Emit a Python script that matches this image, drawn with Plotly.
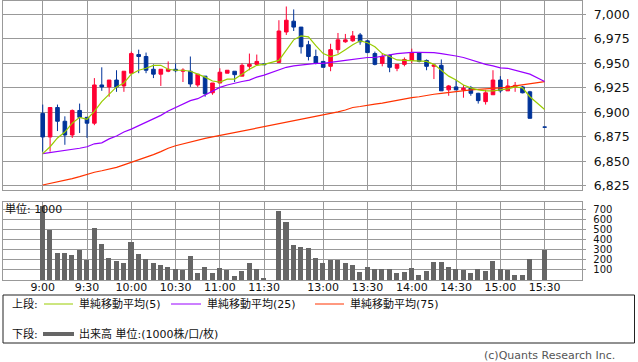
import plotly.graph_objects as go

W, H = 638, 362

# 5-minute slots, 9:00 = slot 0 (slot 31 = lunch gap, slot 67 = pre-close gap)
slots = list(range(0, 31)) + list(range(32, 67)) + [68]

opens = [6899, 6875, 6905, 6891, 6877, 6902, 6895, 6889, 6928, 6926, 6933, 6927, 6940, 6959, 6957,
         6944, 6939, 6942, 6944, 6942, 6942, 6928, 6937, 6920, 6930, 6940, 6942, 6937, 6947, 6949, 6949.4,
         6951, 6982, 6993, 6987, 6969, 6957, 6952, 6947, 6964, 6972, 6973, 6979, 6973, 6960, 6950,
         6958, 6945, 6949, 6953, 6961, 6953, 6947, 6948, 6923, 6926, 6923, 6925, 6919.5, 6911, 6918,
         6933, 6922, 6926, 6926, 6921, 6885]
highs = [6908, 6905, 6908, 6896, 6903, 6909, 6895, 6935, 6946, 6933, 6943, 6942, 6962, 6964, 6961,
         6949, 6944, 6952, 6950, 6945, 6957, 6939, 6937, 6930, 6945, 6943, 6942, 6950, 6960, 6959, 6950,
         6994, 7008, 7005, 6987, 6973, 6964, 6952, 6970, 6981, 6980, 6983, 6981, 6974, 6962, 6960,
         6959, 6949, 6956, 6965, 6961, 6954, 6948, 6954, 6928, 6933, 6928, 6927, 6920, 6923, 6943,
         6937, 6934, 6931, 6927, 6922, 6885]
lows = [6860, 6860, 6881, 6867, 6874, 6879, 6874, 6887, 6922, 6916, 6921, 6921, 6940, 6940, 6940,
        6935, 6927, 6941, 6941, 6931, 6926, 6926, 6916, 6918, 6930, 6940, 6931, 6937, 6943, 6948, 6948.5,
        6951, 6979, 6983, 6960, 6953, 6949, 6946, 6942, 6960, 6971, 6972, 6969, 6961, 6948, 6947,
        6941, 6942, 6947, 6950, 6951, 6943, 6934, 6922, 6917, 6923, 6915, 6917, 6909, 6908, 6918,
        6920, 6922, 6921, 6919.5, 6894, 6885]
closes = [6875, 6905, 6891, 6877, 6902, 6895, 6889, 6928, 6926, 6933, 6926, 6942, 6960, 6957, 6943,
          6939, 6944, 6944, 6942.5, 6943, 6929, 6939, 6919, 6930, 6941, 6943, 6938.5, 6948, 6949, 6952, 6948.7,
          6983, 6994, 6987, 6967, 6957, 6950, 6946, 6964, 6974, 6974, 6978, 6972, 6961, 6949, 6957,
          6946, 6949, 6954, 6961, 6952, 6947, 6948.4, 6922, 6927, 6923, 6924.6, 6919.5, 6912, 6920, 6933,
          6922, 6927, 6927.6, 6920, 6894, 6885]

volumes = [730, 500, 270, 270, 248, 297, 199, 513, 359, 218, 189, 172, 376, 261, 209,
           172, 150, 130, 110, 100, 238, 74, 130, 74, 120, 100, 41, 94, 172, 110, 22,
           690, 572, 347, 326, 317, 218, 169, 199, 199, 169, 150, 81, 130, 110, 110,
           110, 71, 81, 120, 51, 90, 179, 179, 130, 110, 100, 71, 110, 90, 189,
           110, 100, 51, 51, 209, 297]

ma_slots = list(range(0, 31)) + list(range(32, 67)) + [68]
ma5 = [6858, 6865, 6874, 6880, 6889, 6895, 6893, 6901, 6911, 6919, 6926, 6930, 6939, 6943, 6945,
       6948, 6948, 6944, 6943, 6943, 6942, 6939, 6936, 6932, 6931, 6934, 6934, 6939, 6944, 6948, 6949,
       6953, 6964, 6974, 6978, 6977, 6968, 6960, 6957, 6959, 6964, 6969, 6973, 6971, 6967, 6960,
       6957, 6953.5, 6953, 6952.5, 6952, 6952, 6949, 6943, 6937, 6933, 6928, 6925, 6923, 6922, 6922,
       6923, 6924, 6926, 6925, 6916, 6903]
ma25 = [6858, 6859, 6860, 6861, 6862, 6863.5, 6865, 6868, 6869, 6873, 6876, 6880, 6883, 6886.5, 6890,
        6893, 6897, 6901.5, 6905, 6908, 6912, 6914, 6918, 6922, 6925.5, 6928, 6930, 6931.5, 6933, 6936, 6938,
        6943, 6946, 6947.5, 6948.5, 6949.5, 6950, 6950, 6950.7, 6952, 6953, 6954, 6955, 6956, 6956, 6957,
        6958.6, 6960, 6961, 6961.3, 6961.3, 6961.3, 6961, 6960, 6959, 6957.5, 6956, 6953.5, 6951, 6949, 6947.5,
        6945.5, 6945, 6943, 6941.5, 6939, 6931.5]
ma75 = [6826, 6827.5, 6829, 6830.5, 6832.5, 6834.5, 6837, 6839, 6840.5, 6842, 6844, 6846.5, 6849, 6851.5, 6854,
        6857, 6860, 6863.5, 6866, 6868, 6870, 6872, 6873.5, 6875, 6876.5, 6878, 6879.5, 6881, 6882.5, 6884, 6885.5,
        6888, 6889.5, 6891, 6892.5, 6894, 6895.5, 6897, 6898.5, 6900.5, 6902.5, 6905, 6906, 6907.5, 6908.5, 6909.5,
        6911, 6912.5, 6914, 6915, 6916, 6917.5, 6918.5, 6919.5, 6920.5, 6921.2, 6922, 6923, 6923.5, 6924, 6924.6,
        6925, 6925.6, 6927, 6928, 6929, 6931.4]

time_pos = [0, 6, 12, 18, 24, 30, 38, 44, 50, 56, 62, 68]
time_labels = ["9:00", "9:30", "10:00", "10:30", "11:00", "11:30",
               "13:00", "13:30", "14:00", "14:30", "15:00", "15:30"]
price_ticks = [6825, 6850, 6875, 6900, 6925, 6950, 6975, 7000]
price_labels = ["6,825", "6,850", "6,875", "6,900", "6,925", "6,950", "6,975", "7,000"]
vol_ticks = [100, 200, 300, 400, 500, 600, 700]

RED = "#ff0033"
BLUE = "#003399"
GRID = "#999999"
FONT = "DejaVu Sans, Noto Sans CJK JP, sans-serif"

def px(v):
    return v / W

def py(v):
    return 1 - v / H

fig = go.Figure()

fig.add_trace(go.Candlestick(
    x=slots, open=opens, high=highs, low=lows, close=closes,
    increasing=dict(line=dict(color=RED, width=1), fillcolor=RED),
    decreasing=dict(line=dict(color=BLUE, width=1), fillcolor=BLUE),
    whiskerwidth=0, xaxis="x", yaxis="y", showlegend=False, hoverinfo="skip"))

for vals, col in [(ma75, "#ff3300"), (ma25, "#9900ff"), (ma5, "#99cc00")]:
    fig.add_trace(go.Scatter(x=ma_slots, y=vals, mode="lines",
                             line=dict(color=col, width=1.2),
                             xaxis="x", yaxis="y", showlegend=False, hoverinfo="skip"))

fig.add_trace(go.Bar(x=slots, y=volumes, width=0.68, marker=dict(color="#666666", line=dict(width=0)),
                     xaxis="x2", yaxis="y2", showlegend=False, hoverinfo="skip"))

xdom = [px(3.3), px(582.3)]
xr = [-5.34, 73.1]
common_x = dict(domain=xdom, range=xr, tickvals=time_pos, showgrid=True, gridcolor=GRID, gridwidth=1,
                showline=True, linecolor=GRID, linewidth=1, mirror=True, zeroline=False, ticks="",
                fixedrange=True, automargin=False)

fig.update_layout(
    width=W, height=H, margin=dict(l=0, r=0, t=0, b=0, autoexpand=False),
    paper_bgcolor="white", plot_bgcolor="white",
    font=dict(family=FONT, size=12, color="#111111"),
    showlegend=False, bargap=0,
    xaxis=dict(**common_x, anchor="y", showticklabels=False, rangeslider=dict(visible=False)),
    yaxis=dict(domain=[py(190), py(1)], range=[6820.9, 7013.6], side="right", anchor="x",
               tickvals=price_ticks, ticktext=price_labels, showgrid=True, gridcolor=GRID,
               showline=True, linecolor=GRID, mirror=True, zeroline=False, automargin=False,
               ticks="outside", ticklen=3, tickcolor=GRID, ticklabelstandoff=5,
               tickfont=dict(size=12.5), fixedrange=True),
    xaxis2=dict(**common_x, anchor="y2", ticktext=time_labels, tickfont=dict(size=11),
                ticklabelstandoff=-3),
    yaxis2=dict(domain=[py(280), py(202)], range=[0, 774.6], side="right", anchor="x2",
                tickvals=vol_ticks, showgrid=True, gridcolor=GRID, automargin=False,
                showline=True, linecolor=GRID, mirror=True, zeroline=False,
                ticks="outside", ticklen=3, tickcolor=GRID, ticklabelstandoff=5,
                tickfont=dict(size=10), fixedrange=True),
)

# unit label
fig.add_annotation(text="単位: 1000", xref="paper", yref="paper", x=px(3), y=py(209),
                   xanchor="left", yanchor="middle", showarrow=False, font=dict(size=11, color="#111"))

# legend box
fig.add_shape(type="rect", xref="paper", yref="paper", x0=px(3), x1=px(634.5), y0=py(343), y1=py(295),
              line=dict(color="#222222", width=1), fillcolor="rgba(0,0,0,0)")

leg_rows = [
    (304, "上段:", [((44, 73), "#99cc00", 1, 77, "単純移動平均(5)"),
                    ((171, 201), "#9900ff", 1, 205, "単純移動平均(25)"),
                    ((315, 344), "#ff3300", 1, 348, "単純移動平均(75)")]),
    (334, "下段:", [((43, 74), "#666666", 4, 77, "出来高 単位:(1000株/口/枚)")]),
]
for ypos, head, items in leg_rows:
    fig.add_annotation(text=head, xref="paper", yref="paper", x=px(10), y=py(ypos),
                       xanchor="left", yanchor="middle", showarrow=False, font=dict(size=11, color="#111"))
    for (lx0, lx1), col, lw, tx, label in items:
        fig.add_shape(type="line", xref="paper", yref="paper", x0=px(lx0), x1=px(lx1),
                      y0=py(ypos), y1=py(ypos), line=dict(color=col, width=lw))
        fig.add_annotation(text=label, xref="paper", yref="paper", x=px(tx), y=py(ypos),
                           xanchor="left", yanchor="middle", showarrow=False,
                           font=dict(size=11, color="#111"))

fig.add_annotation(text="(c)Quants Research Inc.", xref="paper", yref="paper", x=px(617), y=py(355),
                   xanchor="right", yanchor="middle", showarrow=False, font=dict(size=11, color="#555"))

fig.write_html("out.html", config={"displayModeBar": False},
               post_script="document.body.style.margin='0';document.body.style.padding='0';")
